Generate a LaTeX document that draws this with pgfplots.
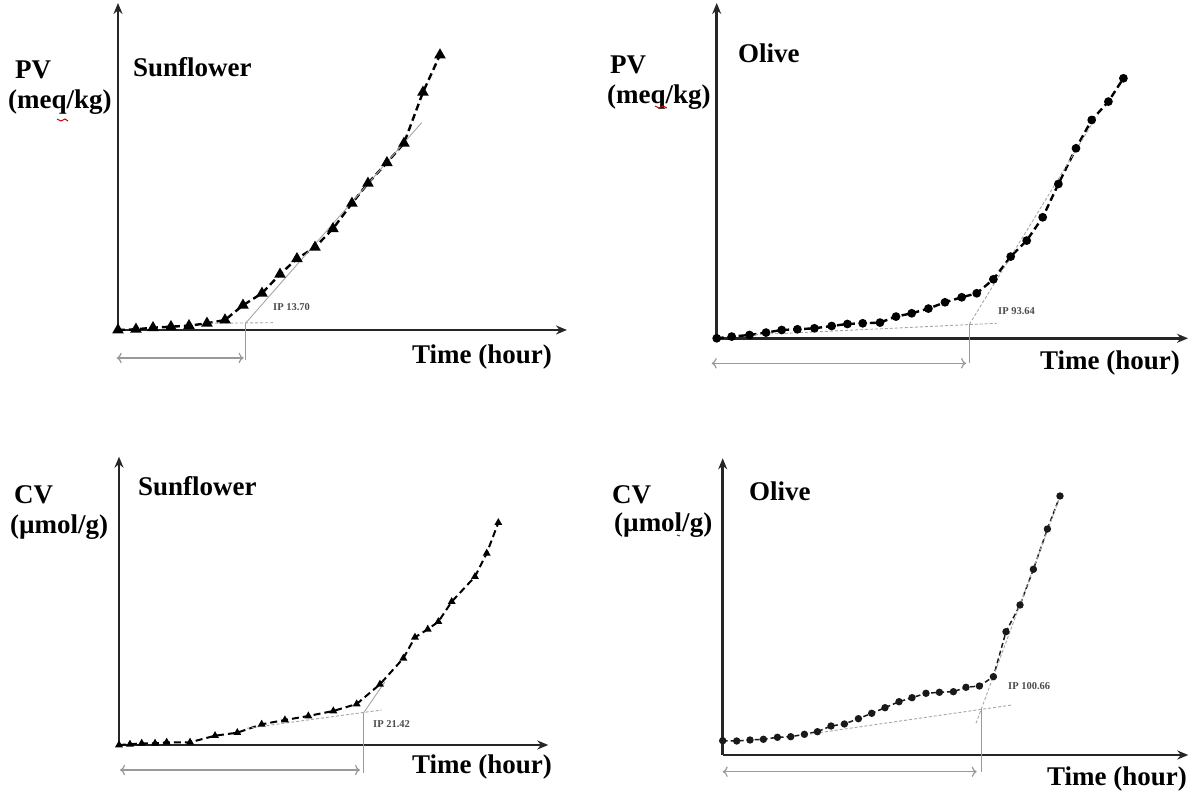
\documentclass[border=0pt]{standalone}
\usepackage{fontspec}
\setmainfont{Liberation Serif}
\usepackage{pgfplots}
\pgfplotsset{compat=1.18}
\usetikzlibrary{arrows.meta}
\pgfplotsset{
  panel/.style={scale only axis, axis lines=left, xtick=\empty, ytick=\empty,
    clip=false, xmin=0, ymin=0, anchor=south west,
    axis line style={line width=2.8pt, black!85},
    every outer x axis line/.append style={-{Stealth[length=11pt,width=9pt]}},
    every outer y axis line/.append style={-{Stealth[length=11pt,width=9pt]}}},
  dat/.style={black, line width=2.4pt, dash pattern=on 7pt off 4pt, mark options={solid}},
  tang/.style={gray!70, line width=0.9pt, dash pattern=on 3pt off 2pt},
  ipl/.style={gray!80, line width=1pt},
  dbl/.style={gray!80, line width=1.2pt, {To[length=5pt]}-{To[length=5pt]}},
}
\tikzset{lab/.style={font=\fontsize{27}{31}\selectfont\bfseries, inner sep=0pt, anchor=west},
  iplab/.style={font=\fontsize{10.5}{12}\selectfont\bfseries, text=black!70, inner sep=0pt, anchor=west}}
\begin{document}
\begin{tikzpicture}
% ---------- Panel 1: Sunflower PV ----------
\begin{axis}[panel, at={(118pt,461pt)}, width=449pt, height=327pt, xmax=48.25, ymax=327]
\addplot[dat, mark=triangle*, mark size=4.3pt] coordinates {
(0,0) (1.93,0.7) (3.76,2.3) (5.69,3.3) (7.63,4.3) (9.56,6.7) (11.50,10) (13.43,24.7)
(15.47,36.7) (17.41,55.7) (19.23,71.3) (21.17,82.7) (23.10,101.3) (25.14,126.7)
(26.86,146.7) (28.90,167.3) (30.73,186.7) (32.77,237.7) (34.60,275)};
\addplot[tang] coordinates {(9.89,6.7) (16.65,7.3)};
\addplot[gray!70, line width=0.9pt] coordinates {(13.70,6.7) (32.63,207.3)};
\addplot[ipl] coordinates {(13.70,6.7) (13.70,-30)};
\addplot[dbl] coordinates {(-0.14,-28) (13.5,-28)};
\end{axis}
% ---------- Panel 2: Olive PV ----------
\begin{axis}[panel, at={(716.7pt,452.7pt)}, width=471.3pt, height=335.3pt, xmax=174.65, ymax=335.3]
\addplot[dat, mark=*, mark size=3.1pt] coordinates {
(0,0) (5.56,1.7) (12.12,3.3) (18.27,5.7) (24.09,8.3) (29.90,9) (36.20,10) (42.61,12.3)
(48.43,14.3) (54.10,15) (60.51,15.7) (66.44,21.7) (72.26,25) (78.45,29.7) (84.60,36)
(90.79,41) (96.35,45) (102.53,59) (108.95,81.7) (114.87,97.7) (120.80,121) (126.62,154.3)
(133.14,190) (138.96,218.3) (145.15,236.7) (150.71,260)};
\addplot[tang] coordinates {(12.34,3.3) (103.76,15)};
\addplot[tang] coordinates {(93.64,14) (139.59,216.7)};
\addplot[ipl] coordinates {(93.64,14) (93.64,-25)};
\addplot[dbl] coordinates {(-1.85,-25) (92.4,-25)};
\end{axis}
% ---------- Panel 3: Sunflower CV ----------
\begin{axis}[panel, at={(119pt,46pt)}, width=429.3pt, height=288.3pt, xmax=37.64, ymax=288.3]
\addplot[dat, line width=2pt, mark=triangle*, mark size=2.6pt] coordinates {
(0,0) (0.96,0.7) (1.99,1.7) (3.16,1.7) (4.18,2.7) (6.23,2.7) (8.42,9.3) (10.37,12.3)
(12.51,20.7) (14.55,25) (16.60,29) (18.79,34) (20.84,41) (22.88,60.7) (24.93,86.7)
(25.95,107.7) (27.07,115.7) (28.00,123.3) (29.17,143.3) (31.21,168.3) (32.24,191.7) (33.26,222.3)};
\addplot[tang] coordinates {(11.20,16.7) (23.03,35)};
\addplot[gray!70, line width=0.9pt] coordinates {(21.42,31.7) (23.32,63.3)};
\addplot[ipl] coordinates {(21.42,31.7) (21.42,-28.3)};
\addplot[dbl] coordinates {(0.09,-25) (21.13,-25)};
\end{axis}
% ---------- Panel 4: Olive CV ----------
\begin{axis}[panel, at={(722.7pt,36pt)}, width=465.6pt, height=296.7pt, xmax=180.96, ymax=296.7]
\addplot[black!90, line width=1.5pt, dash pattern=on 5pt off 3pt, mark options={solid}, mark=*, mark size=2.9pt] coordinates {
(0,14.3) (5.44,14) (10.61,15) (15.82,15.7) (21.26,17.7) (26.43,18.3) (31.75,20.7) (36.81,23.3)
(42.09,29) (47.30,31) (52.74,36.3) (57.91,41.7) (63.08,47.3) (68.52,53.3) (73.57,57.3)
(79.01,61.7) (84.22,62.7) (89.66,63.3) (94.56,67.7) (99.77,69) (105.21,78.3) (110.10,123.3)
(115.55,150) (120.75,185.7) (126.20,226) (131.09,259)};
\addplot[tang] coordinates {(33.93,21) (112.32,50)};
\addplot[tang] coordinates {(98.44,31.7) (131.09,258.3)};
\addplot[ipl] coordinates {(100.66,45.7) (100.66,-16.7)};
\addplot[dbl] coordinates {(0,-16.7) (98.72,-16.7)};
\end{axis}
% ---------- Texts ----------
\node[lab] at (15pt,721pt) {PV};
\node[lab] at (8pt,689pt) {(meq/kg)};
\node[lab] at (133pt,724pt) {Sunflower};
\node[lab] at (412pt,434pt) {Time (hour)};
\node[iplab] at (273pt,484pt) {IP 13.70};
\node[lab] at (610pt,726pt) {PV};
\node[lab] at (607pt,694pt) {(meq/kg)};
\node[lab] at (738pt,738pt) {Olive};
\node[lab] at (1040pt,428pt) {Time (hour)};
\node[iplab] at (998pt,480pt) {IP 93.64};
\node[lab] at (14pt,296pt) {CV};
\node[lab] at (10pt,264pt) {(µmol/g)};
\node[lab] at (138pt,305pt) {Sunflower};
\node[lab] at (412pt,24pt) {Time (hour)};
\node[iplab] at (373pt,67pt) {IP 21.42};
\node[lab] at (612pt,296pt) {CV};
\node[lab] at (614pt,266pt) {(µmol/g)};
\node[lab] at (749pt,300pt) {Olive};
\node[lab] at (1047pt,12pt) {Time (hour)};
\node[iplab] at (1008pt,105pt) {IP 100.66};
\draw[red!80!black, line width=1pt] (57pt,672pt) -- (61pt,670pt) -- (65pt,672pt) -- (68pt,670pt);
\draw[red!80!black, line width=1pt] (655pt,685pt) -- (659pt,683pt) -- (663pt,685pt) -- (667pt,683pt);
\draw[red!80!black, line width=1pt] (677pt,256pt) -- (680pt,255pt);
\pgfresetboundingbox
\path[use as bounding box] (0pt,0pt) rectangle (1191pt,791pt);
\end{tikzpicture}
\end{document}
